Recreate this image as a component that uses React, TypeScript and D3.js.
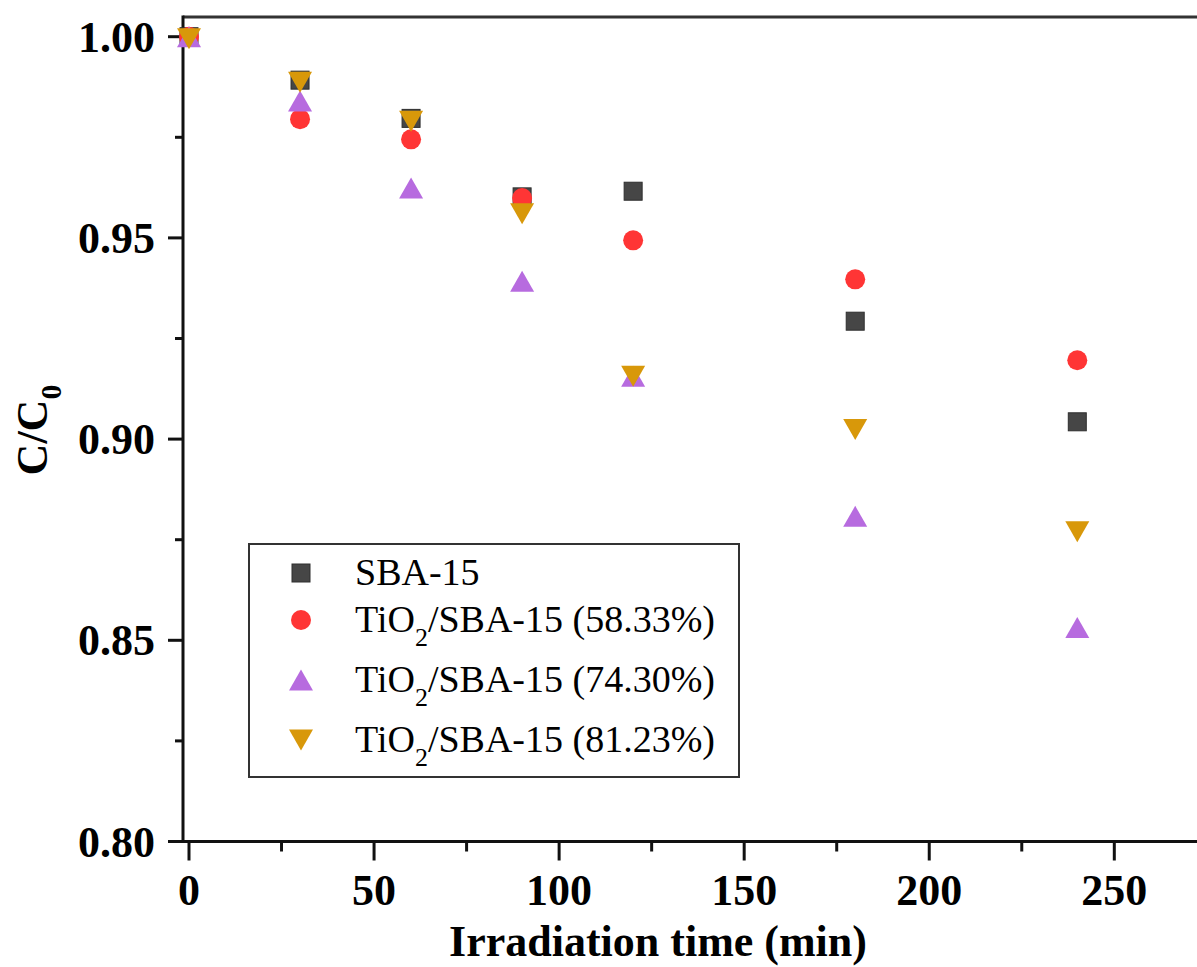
import React from "react";
import * as d3 from "d3";

const times = [0, 30, 60, 90, 120, 180, 240];
const sba15 = [1.0, 0.9892, 0.9797, 0.9602, 0.9616, 0.9293, 0.9043];
const tio2_5833 = [1.0, 0.9795, 0.9745, 0.9599, 0.9494, 0.9397, 0.9196];
const tio2_7430 = [1.0, 0.984, 0.9624, 0.9392, 0.9156, 0.8808, 0.8532];
const tio2_8123 = [0.9995, 0.9887, 0.979, 0.956, 0.9156, 0.9024, 0.877];

const seriesNames = ["SBA-15", "(58.33%)", "(74.30%)", "(81.23%)"];
const seriesColors = ["#464646", "#FF3535", "#B76BDF", "#D8980A"];
const seriesShapes = ["square", "circle", "up", "down"];
const seriesValues = [sba15, tio2_5833, tio2_7430, tio2_8123];

const xMajor = [0, 50, 100, 150, 200, 250];
const xMinor = [25, 75, 125, 175, 225];
const yMajor = [0.8, 0.85, 0.9, 0.95, 1.0];
const yMinor = [0.825, 0.875, 0.925, 0.975];

const W = 1197;
const H = 967;

const x = d3.scaleLinear().domain([0, 250]).range([189, 1114.3]);
const y = d3.scaleLinear().domain([0.8, 1.0]).range([841.5, 36.7]);

const axisLeft = 183;
const axisBottom = 841.5;
const frameTop = 17;

function Marker({ shape, cx, cy, color }: { shape: string; cx: number; cy: number; color: string }) {
  if (shape === "square") {
    return <rect x={cx - 9} y={cy - 9} width={18} height={18} fill={color} stroke="#2e2e2e" strokeWidth={1} />;
  }
  if (shape === "circle") {
    return <circle cx={cx} cy={cy} r={10} fill={color} />;
  }
  const w = 24, h = 21;
  if (shape === "up") {
    const p = `M${cx},${cy - h / 2}L${cx + w / 2},${cy + h / 2}L${cx - w / 2},${cy + h / 2}Z`;
    return <path d={p} fill={color} />;
  }
  const p = `M${cx - w / 2},${cy - h / 2}L${cx + w / 2},${cy - h / 2}L${cx},${cy + h / 2}Z`;
  return <path d={p} fill={color} />;
}

export default function App() {
  const boldFont = "'Liberation Serif', 'Times New Roman', serif";
  const legendRows = [573, 620, 680, 740];
  const legendBaselines = [585, 632, 692, 752];
  return (
    <svg
      width={W}
      height={H}
      style={{ position: "absolute", left: 0, top: 0, display: "block", background: "#fff" }}
      fontFamily={boldFont}
    >
      <rect x={0} y={0} width={W} height={H} fill="#fff" />
      {/* frame */}
      <line x1={axisLeft} x2={W} y1={frameTop} y2={frameTop} stroke="#333" strokeWidth={3} />
      <line x1={axisLeft} x2={axisLeft} y1={frameTop - 1.5} y2={axisBottom + 1.5} stroke="#111" strokeWidth={3} />
      <line x1={axisLeft - 1.5} x2={W} y1={axisBottom} y2={axisBottom} stroke="#111" strokeWidth={3} />

      {/* y ticks */}
      {yMajor.map((v) => (
        <g key={"ym" + v}>
          <line x1={axisLeft - 15} x2={axisLeft} y1={y(v)} y2={y(v)} stroke="#111" strokeWidth={3} />
          <text x={155} y={y(v) + 15} textAnchor="end" fontWeight="bold" fontSize={44} fill="#000">
            {d3.format(".2f")(v)}
          </text>
        </g>
      ))}
      {yMinor.map((v) => (
        <line key={"yn" + v} x1={axisLeft - 8} x2={axisLeft} y1={y(v)} y2={y(v)} stroke="#111" strokeWidth={3} />
      ))}

      {/* x ticks */}
      {xMajor.map((v) => (
        <g key={"xm" + v}>
          <line x1={x(v)} x2={x(v)} y1={axisBottom} y2={axisBottom + 19} stroke="#111" strokeWidth={3} />
          <text x={x(v)} y={905} textAnchor="middle" fontWeight="bold" fontSize={44} fill="#000">
            {v}
          </text>
        </g>
      ))}
      {xMinor.map((v) => (
        <line key={"xn" + v} x1={x(v)} x2={x(v)} y1={axisBottom} y2={axisBottom + 10} stroke="#111" strokeWidth={3} />
      ))}

      {/* axis titles */}
      <text x={658} y={956} textAnchor="middle" fontWeight="bold" fontSize={44} fill="#000">
        Irradiation time (min)
      </text>
      <text transform="translate(47,430) rotate(-90)" textAnchor="middle" fontWeight="bold" fontSize={44} fill="#000">
        C/C<tspan fontSize={30} dy={14}>0</tspan>
      </text>

      {/* data */}
      {seriesValues.map((vals, si) => (
        <g key={"s" + si}>
          {vals.map((v, i) => (
            <Marker key={i} shape={seriesShapes[si]} cx={x(times[i])} cy={y(v)} color={seriesColors[si]} />
          ))}
        </g>
      ))}

      {/* legend */}
      <rect x={249} y={544} width={490} height={233} fill="none" stroke="#333" strokeWidth={2} />
      {seriesNames.map((name, si) => (
        <g key={"l" + si}>
          <Marker shape={seriesShapes[si]} cx={301} cy={legendRows[si]} color={seriesColors[si]} />
          {si === 0 ? (
            <text x={355} y={legendBaselines[si]} fontSize={38} fill="#000">
              {name}
            </text>
          ) : (
            <text x={355} y={legendBaselines[si]} fontSize={38} fill="#000">
              TiO<tspan fontSize={26} dy={14}>2</tspan>
              <tspan dy={-14}>/SBA-15 {name}</tspan>
            </text>
          )}
        </g>
      ))}
    </svg>
  );
}
